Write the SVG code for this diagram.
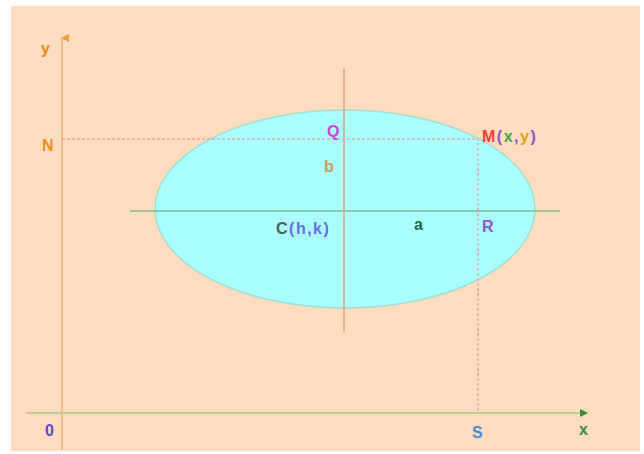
<svg xmlns="http://www.w3.org/2000/svg" width="644" height="454" viewBox="0 0 644 454">
<style>
text{font-family:"Liberation Sans",Arial,sans-serif;font-weight:bold;font-size:16px;letter-spacing:1.5px}
.dash{stroke:#E58A8A;stroke-width:1;stroke-dasharray:3,2;fill:none}
</style>
<defs>
<marker id="ay" markerWidth="8" markerHeight="8" refX="4" refY="1" orient="auto-start-reverse" markerUnits="userSpaceOnUse" viewBox="0 0 8 8"><path d="M0,8 L4,0 L8,8 Z" fill="#EE9A40"/></marker>
<marker id="ax" markerWidth="8" markerHeight="8" refX="7" refY="4" orient="auto" markerUnits="userSpaceOnUse" viewBox="0 0 8 8"><path d="M0,0 L8,4 L0,8 Z" fill="#3A8A3A"/></marker>
</defs>
<rect x="0" y="0" width="644" height="454" fill="#FFFFFF"/>
<rect x="11" y="6" width="629" height="445" fill="#FEDCBE"/>
<g id="ellipse"><ellipse cx="345" cy="209" rx="190" ry="99" fill="#AAFEFE" stroke="#9EE2D2" stroke-width="1.5"/></g>
<g id="connectors">
<line x1="62" y1="450" x2="62" y2="38" stroke="#F2B27A" stroke-width="1.5" marker-end="url(#ay)"/>
<line x1="26" y1="413" x2="587" y2="413" stroke="#C9C98E" stroke-width="2" marker-end="url(#ax)"/>
<line x1="130" y1="211" x2="560" y2="211" stroke="#7DBA8A" stroke-width="1.5"/>
<line x1="344" y1="69" x2="344" y2="332" stroke="#D9A27E" stroke-width="1.5"/>
<path class="dash" d="M62,139 H478 V413"/>
</g>
<g id="labels">
<text x="41" y="54" fill="#E88A1E">y</text>
<text x="42" y="151" fill="#EE9020">N</text>
<text x="327" y="137" fill="#CC44D4">Q</text>
<text x="482" y="142"><tspan fill="#FF3A3A">M</tspan><tspan fill="#8850D0">(</tspan><tspan fill="#44AA44">x</tspan><tspan fill="#8850D0">,</tspan><tspan fill="#E8A020">y</tspan><tspan fill="#8850D0">)</tspan></text>
<text x="324" y="172" fill="#D49A5A">b</text>
<text x="276" y="234"><tspan fill="#4A5E5A">C</tspan><tspan fill="#6A6AEE">(h,k)</tspan></text>
<text x="414" y="230" fill="#1A6A3A">a</text>
<text x="482" y="232" fill="#8A58C0">R</text>
<text x="45" y="436" fill="#5A48D0">0</text>
<text x="472" y="438" fill="#4A8AD8">S</text>
<text x="579" y="435" fill="#3A8A3A">x</text>
</g>
</svg>
